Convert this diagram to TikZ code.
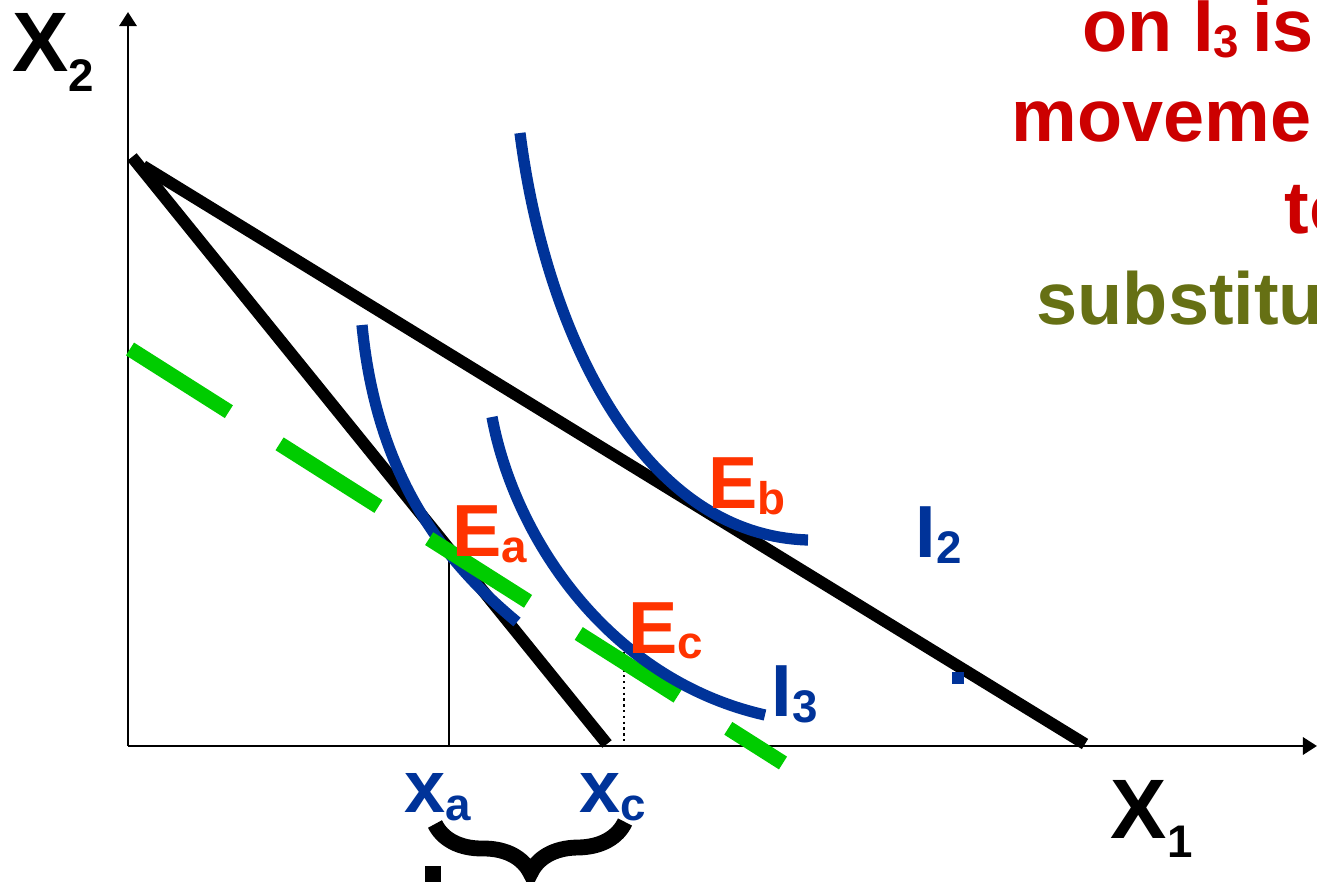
\documentclass[tikz,border=0pt]{standalone}
\usepackage{fontspec}
\setmainfont{Liberation Sans}
\usetikzlibrary{arrows.meta, decorations.pathreplacing}
\definecolor{curveblue}{RGB}{0, 51, 153}
\definecolor{eqred}{RGB}{255, 51, 0}
\definecolor{notered}{RGB}{204, 0, 0}
\definecolor{noteolive}{RGB}{102, 112, 20}
\definecolor{compgreen}{RGB}{0, 204, 0}
\newcommand{\lowsub}[2][1.5pt]{\raisebox{-#1}{\fontsize{13}{13}\selectfont #2}}

\begin{document}
\begin{tikzpicture}[
  x=0.01cm, y=-0.01cm,
  lbl/.style={inner sep=0pt, anchor=base west, font=\fontsize{21}{25}\selectfont\bfseries},
  axlbl/.style={inner sep=0pt, anchor=base west, font=\fontsize{24}{28}\selectfont\bfseries},
  axis/.style={line width=0.85pt, -{Triangle[length=0.14cm, width=0.17cm]}},
  budget/.style={line width=3.4pt},
  indiff/.style={line width=3.2pt, curveblue},
  comp/.style={line width=4.3pt, compgreen, dash pattern=on 1.17cm off 0.6cm},
  drop/.style={line width=0.65pt},
  tinysq/.style={inner sep=0pt, minimum size=#1},
  tinysq/.default=0.12cm
]
  \useasboundingbox (0,0) rectangle (1317,882);

  % Axes
  \coordinate (O) at (128,746);
  \coordinate (ytop) at (128,12);
  \coordinate (xend) at (1317,746);
  \draw[axis] (O) -- (ytop);
  \draw[axis] (O) -- (xend);

  % Budget lines
  \coordinate (b1top) at (132,157);
  \coordinate (b1bot) at (607,744);
  \coordinate (b2top) at (143,166);
  \coordinate (b2bot) at (1085,744);
  \draw[budget] (b1top) -- (b1bot);
  \draw[budget] (b2top) -- (b2bot);

  % Drop lines
  \coordinate (tA) at (449,560);
  \coordinate (fA) at (449,746);
  \coordinate (tC) at (624,652);
  \coordinate (fC) at (624,746);
  \draw[drop] (tA) -- (fA);
  \draw[drop, densely dotted] (tC) -- (fC);

  % Indifference curves
  \coordinate (i1s) at (362,325);
  \coordinate (i1e) at (517,622);
  \draw[indiff] (i1s) .. controls (375,460) and (430,550) .. (i1e);
  \coordinate (c1) at (130,349);
  \coordinate (c2) at (783,763);
  \draw[comp] (c1) -- (c2);
  \coordinate (i3s) at (492,417);
  \coordinate (i3e) at (765,715);
  \draw[indiff] (i3s) .. controls (515,540) and (610,680) .. (i3e);
  \coordinate (i2s) at (520,133);
  \coordinate (i2e) at (808,540);
  \draw[indiff] (i2s) .. controls (545,330) and (640,535) .. (i2e);

  % Labels
  \node[lbl, eqred] (Eb) at (708,509) {E\lowsub{b}};
  \node[lbl, curveblue] (I2) at (915,558) {I\lowsub{2}};
  \node[lbl, eqred] (Ea) at (452,557) {E\lowsub{a}};
  \node[lbl, eqred] (Ec) at (628,653) {E\lowsub{c}};
  \node[lbl, curveblue] (I3) at (771,717) {I\lowsub{3}};
  \node[lbl, curveblue] (xa) at (404,813) {x\lowsub[2pt]{a}};
  \node[lbl, curveblue] (xc) at (579,813) {x\lowsub[2pt]{c}};
  \node[axlbl] (X1) at (1110,838) {X\lowsub[5.5pt]{1}};
  \node[axlbl] (X2) at (12,72) {X\lowsub[5.5pt]{2}};

  % Note
  \node[lbl, notered] (n1) at (1082,52) {on I\lowsub{3\ }is};
  \node[lbl, notered] (n2) at (1011,142) {moveme};
  \node[lbl, notered] (n3) at (1284,234) {to};
  \node[lbl, noteolive] (n4) at (1036,325) {substitu};

  % Marks
  \node[tinysq, fill=curveblue] (bsq) at (958,678) {};
  \node[tinysq=0.16cm, fill=black] (ksq) at (433,874) {};
  \coordinate (brL) at (435,824);
  \coordinate (brR) at (625,822);
  \draw[decorate, decoration={brace, mirror, amplitude=0.5cm}, line width=4.5pt] (brL) -- (brR);
\end{tikzpicture}
\end{document}
